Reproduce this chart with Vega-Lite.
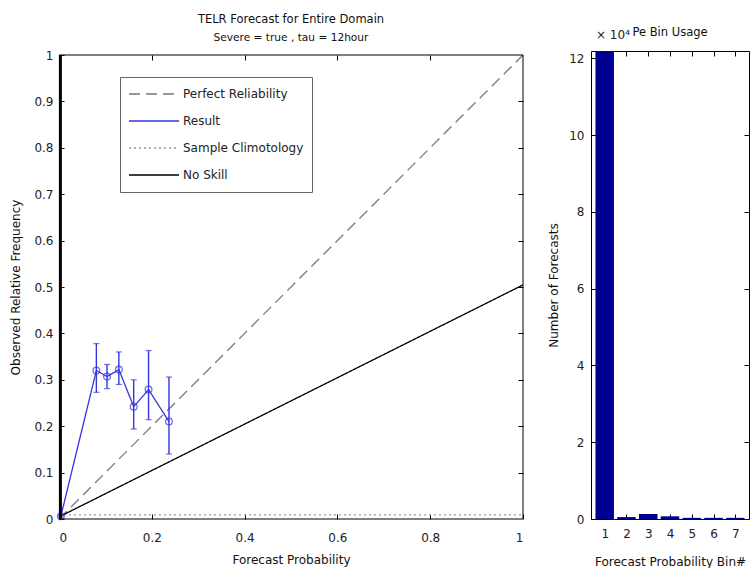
{
 "$schema": "https://vega.github.io/schema/vega-lite/v6.json",
 "background": "white",
 "padding": {"left": 9, "top": 13, "right": 0, "bottom": 0},
 "config": {
  "font": "DejaVu Sans",
  "view": {"stroke": "black", "strokeWidth": 1},
  "axis": {"domain": false, "tickColor": "black", "tickSize": 5, "labelColor": "#222", "titleColor": "#111", "labelFontSize": 12, "titleFontSize": 12, "titleFontWeight": "normal", "grid": false, "labelOverlap": false},
  "title": {"fontSize": 11.5, "fontWeight": "normal", "color": "#111", "subtitleFontSize": 10.6, "subtitleColor": "#111", "subtitlePadding": 8}
 },
 "datasets": {
  "lines": [
   {"series": "Perfect Reliability", "x": 0, "y": 0},
   {"series": "Perfect Reliability", "x": 1, "y": 1},
   {"series": "Sample Climotology", "x": 0, "y": 0.009},
   {"series": "Sample Climotology", "x": 1, "y": 0.009},
   {"series": "No Skill", "x": 0, "y": 0.0045},
   {"series": "No Skill", "x": 1, "y": 0.5045},
   {"series": "Result", "x": 0.004, "y": 0.006, "lo": 0.004, "hi": 0.008},
   {"series": "Result", "x": 0.0805, "y": 0.32, "lo": 0.273, "hi": 0.378},
   {"series": "Result", "x": 0.1035, "y": 0.307, "lo": 0.281, "hi": 0.333},
   {"series": "Result", "x": 0.129, "y": 0.322, "lo": 0.29, "hi": 0.36},
   {"series": "Result", "x": 0.161, "y": 0.242, "lo": 0.194, "hi": 0.3},
   {"series": "Result", "x": 0.193, "y": 0.279, "lo": 0.214, "hi": 0.363},
   {"series": "Result", "x": 0.237, "y": 0.21, "lo": 0.14, "hi": 0.306}
  ],
  "bins": [
   {"bin": 1, "count": 121900},
   {"bin": 2, "count": 500},
   {"bin": 3, "count": 1300},
   {"bin": 4, "count": 700},
   {"bin": 5, "count": 300},
   {"bin": 6, "count": 300},
   {"bin": 7, "count": 300}
  ]
 },
 "spacing": 21,
 "hconcat": [
  {
   "width": 464,
   "height": 468,
   "view": {"stroke": null},
   "title": {"text": "TELR Forecast for Entire Domain", "subtitle": "Severe = true , tau = 12hour", "offset": 5},
   "resolve": {"axis": {"x": "independent", "y": "independent"}},
   "layer": [
    {
     "data": {"name": "lines"},
     "mark": {"type": "line", "clip": true},
     "encoding": {
      "x": {"field": "x", "type": "quantitative", "scale": {"domain": [0, 1], "nice": false}, "axis": {"orient": "bottom", "offset": -5, "labelPadding": 13, "titlePadding": 11, "values": [0, 0.2, 0.4, 0.6, 0.8, 1], "format": "~g", "title": "Forecast Probability"}},
      "y": {"field": "y", "type": "quantitative", "scale": {"domain": [0, 1], "nice": false, "range": [468, 4]}, "axis": {"orient": "left", "offset": -5, "labelPadding": 6, "titlePadding": 11, "values": [0, 0.1, 0.2, 0.3, 0.4, 0.5, 0.6, 0.7, 0.8, 0.9, 1], "format": "~g", "title": "Observed Relative Frequency"}},
      "color": {"field": "series", "type": "nominal", "scale": {"domain": ["Perfect Reliability", "Result", "Sample Climotology", "No Skill"], "range": ["#777777", "#3535e0", "#999999", "#000000"]},
       "legend": {"title": null, "titlePadding": 0, "orient": "none", "legendX": 61, "legendY": 26, "strokeColor": "#666", "fillColor": "white", "padding": 8, "symbolType": "stroke", "symbolSize": 2500, "labelFontSize": 12, "labelColor": "#222", "labelOffset": 3, "clipHeight": 18, "rowPadding": 9}},
      "strokeDash": {"field": "series", "type": "nominal", "scale": {"domain": ["Perfect Reliability", "Result", "Sample Climotology", "No Skill"], "range": [[11, 6], [1, 0], [2, 3], [1, 0]]}},
      "strokeWidth": {"field": "series", "type": "nominal", "scale": {"domain": ["Perfect Reliability", "Result", "Sample Climotology", "No Skill"], "range": [1.3, 1.3, 1.2, 2.5]}}
     }
    },
    {
     "data": {"name": "lines"},
     "mark": {"type": "point", "opacity": 0},
     "encoding": {
      "x": {"field": "x", "type": "quantitative", "axis": {"orient": "top", "offset": -9, "labels": false, "title": null, "values": [0.2, 0.4, 0.6, 0.8]}},
      "y": {"field": "y", "type": "quantitative", "axis": {"orient": "right", "offset": -5, "labels": false, "title": null, "values": [0.1, 0.2, 0.3, 0.4, 0.5, 0.6, 0.7, 0.8, 0.9]}}
     }
    },
    {
     "data": {"name": "lines"},
     "transform": [{"filter": "datum.series == 'Result'"}],
     "mark": {"type": "rule", "color": "#3535e0", "strokeWidth": 1.4},
     "encoding": {
      "x": {"field": "x", "type": "quantitative", "axis": null},
      "y": {"field": "lo", "type": "quantitative", "axis": null},
      "y2": {"field": "hi"}
     }
    },
    {
     "data": {"name": "lines"},
     "transform": [{"filter": "datum.series == 'Result'"}],
     "mark": {"type": "tick", "orient": "horizontal", "color": "#3535e0", "size": 6, "thickness": 1.2},
     "encoding": {
      "x": {"field": "x", "type": "quantitative", "axis": null},
      "y": {"field": "lo", "type": "quantitative", "axis": null}
     }
    },
    {
     "data": {"name": "lines"},
     "transform": [{"filter": "datum.series == 'Result'"}],
     "mark": {"type": "tick", "orient": "horizontal", "color": "#3535e0", "size": 6, "thickness": 1.2},
     "encoding": {
      "x": {"field": "x", "type": "quantitative", "axis": null},
      "y": {"field": "hi", "type": "quantitative", "axis": null}
     }
    },
    {
     "data": {"name": "lines"},
     "transform": [{"filter": "datum.series == 'Result'"}],
     "mark": {"type": "point", "filled": false, "color": "#3535e0", "size": 45, "strokeWidth": 1.3},
     "encoding": {
      "x": {"field": "x", "type": "quantitative", "axis": null},
      "y": {"field": "y", "type": "quantitative", "axis": null}
     }
    },
    {
     "data": {"values": [{}]},
     "mark": {"type": "rule", "color": "black", "strokeWidth": 1},
     "encoding": {"x": {"datum": 0, "axis": null}, "x2": {"datum": 1}, "y": {"datum": 1, "axis": null}}
    },
    {
     "data": {"values": [{}]},
     "mark": {"type": "rule", "color": "black", "strokeWidth": 1},
     "encoding": {"x": {"datum": 0, "axis": null}, "x2": {"datum": 1}, "y": {"datum": 0, "axis": null}}
    },
    {
     "data": {"values": [{}]},
     "mark": {"type": "rule", "color": "black", "strokeWidth": 1},
     "encoding": {"x": {"datum": 1, "axis": null}, "y": {"datum": 0, "axis": null}, "y2": {"datum": 1}}
    },
    {
     "data": {"values": [{}]},
     "mark": {"type": "rule", "color": "black", "strokeWidth": 3},
     "encoding": {"x": {"datum": 0.003, "axis": null}, "y": {"datum": 0, "axis": null}, "y2": {"datum": 1}}
    }
   ]
  },
  {
   "width": 158,
   "height": 468,
   "title": {"text": "Pe Bin Usage", "offset": -9},
   "resolve": {"axis": {"x": "independent", "y": "independent"}},
   "layer": [
    {
     "data": {"name": "bins"},
     "mark": {"type": "bar", "color": "#000090", "width": 18.5, "clip": true, "orient": "vertical"},
     "encoding": {
      "x": {"field": "bin", "type": "quantitative", "scale": {"domain": [0.6, 7.4], "nice": false, "zero": false}, "axis": {"orient": "bottom", "offset": -5, "labelPadding": 9, "titlePadding": 17, "values": [1, 2, 3, 4, 5, 6, 7], "format": "d", "title": "Forecast Probability Bin#"}},
      "y": {"field": "count", "type": "quantitative", "scale": {"domain": [0, 121900], "nice": false}, "axis": {"orient": "left", "offset": -5, "labelPadding": 7, "titlePadding": 8, "values": [0, 20000, 40000, 60000, 80000, 100000, 120000], "labelExpr": "datum.value / 10000", "title": "Number of Forecasts"}}
     }
    },
    {
     "data": {"name": "bins"},
     "mark": {"type": "point", "opacity": 0},
     "encoding": {
      "x": {"field": "bin", "type": "quantitative", "axis": {"orient": "top", "offset": -5, "labels": false, "title": null, "values": [2, 3, 4, 5, 6, 7]}},
      "y": {"field": "count", "type": "quantitative", "axis": {"orient": "right", "offset": -5, "labels": false, "title": null, "values": [20000, 40000, 60000, 80000, 100000]}}
     }
    },
    {
     "data": {"values": [{}]},
     "mark": {"type": "text", "text": "× 10⁴", "align": "left", "baseline": "bottom", "dy": -9, "fontSize": 12, "color": "#222"},
     "encoding": {
      "x": {"datum": 0.6, "axis": null},
      "y": {"datum": 121900, "axis": null}
     }
    }
   ]
  }
 ]
}
